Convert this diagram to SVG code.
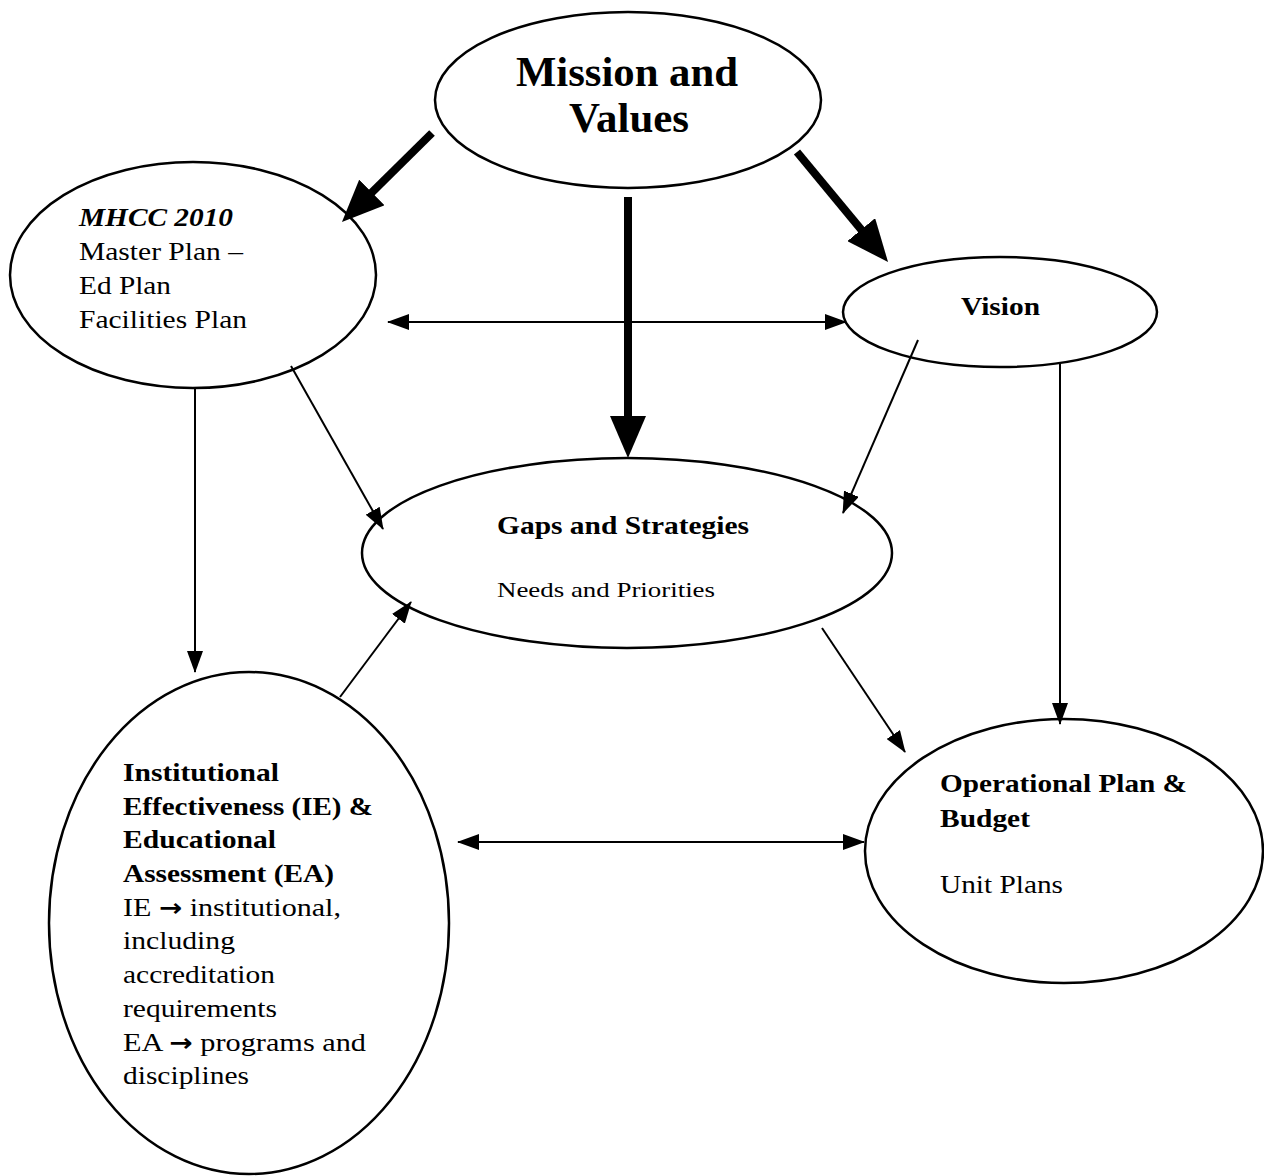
<svg xmlns="http://www.w3.org/2000/svg" width="1264" height="1176" viewBox="0 0 1264 1176">
<style>
.node{fill:#fff;stroke:#000;stroke-width:2.5}
text{font-family:"Liberation Serif","Times New Roman",serif;fill:#000}
.b{font-weight:bold}
.arr{font-family:"DejaVu Sans",sans-serif;font-weight:bold}
.thin{stroke:#000;stroke-width:2;fill:none}
.thick{stroke:#000;stroke-width:8;fill:none}
</style>
<defs>
<marker id="ah" viewBox="0 0 22 16" refX="21" refY="8" markerWidth="22" markerHeight="16" markerUnits="userSpaceOnUse" orient="auto-start-reverse"><path d="M0,0 L22,8 L0,16 z" fill="#000"/></marker>
<marker id="ahb" viewBox="0 0 42 36" refX="12" refY="18" markerWidth="42" markerHeight="36" markerUnits="userSpaceOnUse" orient="auto"><path d="M0,0 L42,18 L0,36 z" fill="#000"/></marker>
</defs>
<rect width="1264" height="1176" fill="#fff"/>

<g id="mission">
<ellipse class="node" cx="628" cy="100" rx="193" ry="88"/>
<text class="b" x="627" y="86" font-size="42" text-anchor="middle" textLength="222" lengthAdjust="spacingAndGlyphs">Mission and</text>
<text class="b" x="629" y="132" font-size="42" text-anchor="middle" textLength="120" lengthAdjust="spacingAndGlyphs">Values</text>
</g>

<g id="mhcc">
<ellipse class="node" cx="193" cy="275" rx="183" ry="113"/>
<text x="79" y="226" font-size="26" class="b" font-style="italic" textLength="154" lengthAdjust="spacingAndGlyphs">MHCC 2010</text>
<text x="79" y="260" font-size="26" textLength="164" lengthAdjust="spacingAndGlyphs">Master Plan –</text>
<text x="79" y="294" font-size="26" textLength="92" lengthAdjust="spacingAndGlyphs">Ed Plan</text>
<text x="79" y="328" font-size="26" textLength="168" lengthAdjust="spacingAndGlyphs">Facilities Plan</text>
</g>

<g id="vision">
<ellipse class="node" cx="1000" cy="312" rx="157" ry="55"/>
<text class="b" x="961" y="315" font-size="26" textLength="79" lengthAdjust="spacingAndGlyphs">Vision</text>
</g>

<g id="gaps">
<ellipse class="node" cx="627" cy="553" rx="265" ry="95"/>
<text class="b" x="497" y="534" font-size="25" textLength="252" lengthAdjust="spacingAndGlyphs">Gaps and Strategies</text>
<text x="497" y="597" font-size="22" textLength="218" lengthAdjust="spacingAndGlyphs">Needs and Priorities</text>
</g>

<g id="operational">
<ellipse class="node" cx="1064" cy="851" rx="199" ry="132"/>
<text class="b" x="940" y="792" font-size="26" textLength="247" lengthAdjust="spacingAndGlyphs">Operational Plan &amp;</text>
<text class="b" x="940" y="827" font-size="26" textLength="90" lengthAdjust="spacingAndGlyphs">Budget</text>
<text x="940" y="893" font-size="26" textLength="123" lengthAdjust="spacingAndGlyphs">Unit Plans</text>
</g>

<g id="ie">
<ellipse class="node" cx="249" cy="923" rx="200" ry="251"/>
<text class="b" x="123" y="781" font-size="26" textLength="156" lengthAdjust="spacingAndGlyphs">Institutional</text>
<text class="b" x="123" y="815" font-size="26" textLength="250" lengthAdjust="spacingAndGlyphs">Effectiveness (IE) &amp;</text>
<text class="b" x="123" y="848" font-size="26" textLength="153" lengthAdjust="spacingAndGlyphs">Educational</text>
<text class="b" x="123" y="882" font-size="26" textLength="211" lengthAdjust="spacingAndGlyphs">Assessment (EA)</text>
<text x="123" y="916" font-size="26" textLength="218" lengthAdjust="spacingAndGlyphs">IE <tspan class="arr" font-size="24">→</tspan> institutional,</text>
<text x="123" y="949" font-size="26" textLength="112" lengthAdjust="spacingAndGlyphs">including</text>
<text x="123" y="983" font-size="26" textLength="152" lengthAdjust="spacingAndGlyphs">accreditation</text>
<text x="123" y="1017" font-size="26" textLength="154" lengthAdjust="spacingAndGlyphs">requirements</text>
<text x="123" y="1051" font-size="26" textLength="243" lengthAdjust="spacingAndGlyphs">EA <tspan class="arr" font-size="24">→</tspan> programs and</text>
<text x="123" y="1084" font-size="26" textLength="126" lengthAdjust="spacingAndGlyphs">disciplines</text>
</g>

<g id="connectors">
<line class="thick" x1="432" y1="133" x2="363.3" y2="200.9" marker-end="url(#ahb)"/>
<line class="thick" x1="628" y1="197" x2="628" y2="428" marker-end="url(#ahb)"/>
<line class="thick" x1="797" y1="152" x2="868.9" y2="238.9" marker-end="url(#ahb)"/>
<line class="thin" x1="388" y1="322" x2="846" y2="322" marker-start="url(#ah)" marker-end="url(#ah)"/>
<line class="thin" x1="195" y1="388" x2="195" y2="672" marker-end="url(#ah)"/>
<line class="thin" x1="291" y1="366" x2="383" y2="529" marker-end="url(#ah)"/>
<line class="thin" x1="918" y1="340" x2="843" y2="513" marker-end="url(#ah)"/>
<line class="thin" x1="1060" y1="364" x2="1060" y2="724" marker-end="url(#ah)"/>
<line class="thin" x1="822" y1="628" x2="905" y2="752" marker-end="url(#ah)"/>
<line class="thin" x1="340" y1="697" x2="411" y2="602" marker-end="url(#ah)"/>
<line class="thin" x1="458" y1="842" x2="864" y2="842" marker-start="url(#ah)" marker-end="url(#ah)"/>
</g>
</svg>
